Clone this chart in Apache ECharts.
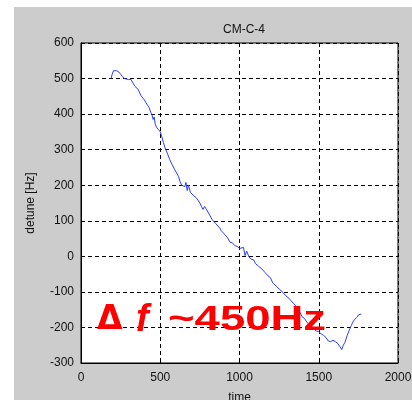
<!DOCTYPE html>
<html><head><meta charset="utf-8">
<script src="https://cdn.jsdelivr.net/npm/echarts@6/dist/echarts.min.js"></script>
<style>html,body{margin:0;padding:0;background:#fff}#c{width:412px;height:400px}</style>
</head><body><div id="c"></div>
<script>
const title = 'CM-C-4';
const xTicks = [0, 500, 1000, 1500, 2000];
const yTicks = [-300, -200, -100, 0, 100, 200, 300, 400, 500, 600];
const time = [190,195,205,215,225,232,240,250,262,275,285,300,315,325,335,340,350,360,368,378,390,400,410,420,430,440,448,455,462,468,478,490,500,510,520,530,545,560,575,590,600,615,625,635,645,655,662,670,678,690,700,712,725,738,750,760,770,780,790,800,812,825,838,850,862,875,885,900,912,925,940,955,970,985,1000,1010,1025,1035,1045,1060,1075,1090,1100,1110,1120,1130,1140,1150,1160,1170,1180,1195,1210,1220,1235,1250,1262,1275,1290,1300,1312,1325,1340,1355,1370,1382,1395,1410,1425,1440,1455,1470,1485,1500,1515,1530,1545,1560,1575,1590,1605,1620,1635,1645,1655,1665,1680,1695,1705,1715,1725,1740,1750,1760,1768];
const detune = [500,510,522,525,522,526,518,512,505,500,498,497,498,490,486,478,474,470,462,452,448,440,432,425,418,405,398,385,392,372,362,356,350,336,320,305,290,272,258,245,240,225,210,200,205,196,208,185,200,180,176,170,166,158,150,140,132,140,133,128,116,105,98,92,90,80,72,65,60,52,40,38,30,28,22,25,25,2,15,-2,-8,-10,-20,-15,-28,-25,-35,-38,-45,-42,-55,-60,-75,-78,-85,-92,-95,-102,-110,-108,-118,-125,-132,-140,-150,-158,-170,-175,-185,-192,-200,-205,-210,-212,-218,-222,-228,-238,-240,-236,-240,-245,-255,-262,-250,-242,-222,-205,-195,-185,-178,-172,-165,-168,-162];
const xLabel = 'time';
const yLabel = 'detune [Hz]';

const chart = echarts.init(document.getElementById('c'), null, {renderer: 'canvas'});
const font = 'Liberation Sans, Arial, sans-serif';
const plain = v => String(v);
chart.setOption({
  animation: false,
  backgroundColor: '#ffffff',
  title: {text: title, left: 239, top: 19, textAlign: 'center',
    textStyle: {fontFamily: font, fontSize: 12, fontWeight: 'normal', color: '#111'}},
  grid: {left: 81, top: 43, right: 14, bottom: 37, show: true, backgroundColor: '#fff',
    borderColor: '#000', borderWidth: 1, z: -5, containLabel: false, outerBoundsMode: 'none'},
  xAxis: {type: 'value', min: xTicks[0], max: xTicks[xTicks.length-1], interval: 500,
    name: xLabel, nameLocation: 'middle', nameGap: 29,
    nameTextStyle: {fontFamily: font, fontSize: 12, color: '#111'},
    axisLine: {show: true, onZero: false, lineStyle: {color: '#000', width: 1}},
    axisTick: {show: true, inside: true, length: 4, lineStyle: {color: '#000'}},
    axisLabel: {fontFamily: font, fontSize: 12, color: '#111', margin: 9, formatter: plain},
    splitLine: {show: true, lineStyle: {color: '#000', type: [4, 3], width: 1}}},
  yAxis: {type: 'value', min: yTicks[0], max: yTicks[yTicks.length-1], interval: 100,
    name: yLabel, nameLocation: 'middle', nameGap: 44, nameRotate: 90,
    nameTextStyle: {fontFamily: font, fontSize: 12, color: '#111'},
    axisLine: {show: true, onZero: false, lineStyle: {color: '#000', width: 1}},
    axisTick: {show: true, inside: true, length: 4, lineStyle: {color: '#000'}},
    axisLabel: {fontFamily: font, fontSize: 12, color: '#111', margin: 7, formatter: plain},
    splitLine: {show: true, lineStyle: {color: '#000', type: [4, 3], width: 1}}},
  graphic: [
    {type: 'rect', left: 14, top: 7, shape: {width: 398, height: 393}, style: {fill: '#cccccc'}, z: -10, silent: true},
    {type: 'text', left: 97, top: 304, z: 100, style: {text: 'Δ', font: 'bold 33px DejaVu Sans', fill: '#ff0000'}},
    {type: 'text', left: 136, top: 302, z: 100, style: {text: 'f', font: 'italic bold 38px Liberation Sans', fill: '#ff0000'}},
    {type: 'text', x: 168, y: 303, scaleX: 1.3, z: 100, style: {text: '~450Hz', font: 'bold 35px Liberation Sans', fill: '#ff0000'}}
  ],
  series: [{type: 'line', data: time.map((t, i) => [t, detune[i]]), showSymbol: false,
    lineStyle: {color: '#2b3dff', width: 1}, z: 5}]
});
</script></body></html>
